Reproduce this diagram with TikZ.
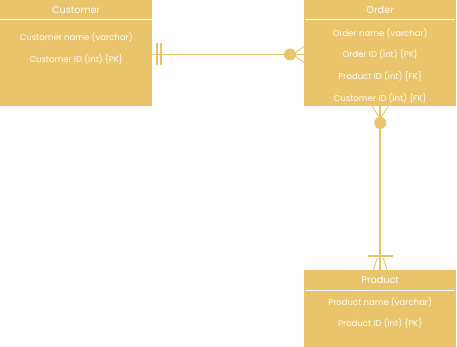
\documentclass[tikz,border=0pt]{standalone}
\usepackage{fontspec}
\setmainfont{Poppins}
\usetikzlibrary{calc}
\definecolor{erfill}{RGB}{233,196,106}
\begin{document}
\begin{tikzpicture}[x=1pt,y=-1pt,
  ent/.style={draw=none,fill=erfill,minimum width=152pt,inner sep=0pt,anchor=north west},
  ttl/.style={text=white,inner sep=0pt,font=\fontsize{9.7}{11}\selectfont},
  fld/.style={text=white,inner sep=0pt,font=\fontsize{8.5}{10}\selectfont},
  hdr/.style={draw=white,line width=1pt},
  rel/.style={draw=erfill,line width=1.5pt},
  bar/.style={draw=erfill,line width=2pt},
  foot/.style={draw=erfill,line width=0.9pt}]
\useasboundingbox (0,0) rectangle (457,347);
% entities
\node[ent,minimum height=106pt] (cust) at (0,0) {};
\node[ent,minimum height=106pt] (order) at (304,0) {};
\node[ent,minimum height=77pt] (prod) at (304,270) {};
% header separators
\draw[hdr] ($(cust.north west)+(0,20)$) -- ($(cust.north east)+(0,20)$);
\draw[hdr] ($(order.north west)+(1,20)$) -- ($(order.north east)+(-1,20)$);
\draw[hdr] ($(prod.north west)+(1,20)$) -- ($(prod.north east)+(-1,20)$);
% titles
\node[ttl] (custT) at ($(cust.north)+(0,10)$) {Customer};
\node[ttl] (orderT) at ($(order.north)+(0,10)$) {Order};
\node[ttl] (prodT) at ($(prod.north)+(0,10)$) {Product};
% fields
\node[fld] (c1) at ($(cust.north)+(0,37.7)$) {Customer name (varchar)};
\node[fld] (c2) at ($(cust.north)+(0,59)$) {Customer ID (int) \{PK\}};
\node[fld] (o1) at ($(order.north)+(0,33)$) {Order name (varchar)};
\node[fld] (o2) at ($(order.north)+(0,54.5)$) {Order ID (int) \{PK\}};
\node[fld] (o3) at ($(order.north)+(0,76.7)$) {Product ID (int) \{FK\}};
\node[fld] (o4) at ($(order.north)+(0,98.5)$) {Customer ID (int) \{FK\}};
\node[fld] (p1) at ($(prod.north)+(0,32.5)$) {Product name (varchar)};
\node[fld] (p2) at ($(prod.north)+(0,53.3)$) {Product ID (int) \{PK\}};
% Customer -- Order
\coordinate (a1) at ($(cust.north east)+(0,54.5)$);
\coordinate (a2) at ($(order.north west)+(0,54.5)$);
\draw[rel] (a1) -- (a2);
\draw[bar] ($(a1)+(5,-11)$) -- ($(a1)+(5,11)$);
\draw[bar] ($(a1)+(9,-11)$) -- ($(a1)+(9,11)$);
\fill[erfill] ($(a2)+(-14,0)$) circle (6);
\draw[foot] ($(a2)+(-11,0)$) -- ($(a2)+(0,-8)$);
\draw[foot] ($(a2)+(-11,0)$) -- ($(a2)+(0,8)$);
% Order -- Product
\coordinate (b1) at (order.south);
\coordinate (b2) at (prod.north);
\draw[rel] (b1) -- (b2);
\fill[erfill] ($(b1)+(0,16.5)$) circle (6);
\draw[foot] ($(b1)+(0,12)$) -- ($(b1)+(-8,0)$);
\draw[foot] ($(b1)+(0,12)$) -- ($(b1)+(8,0)$);
\draw[bar] ($(b2)+(-12,-14)$) -- ($(b2)+(12.5,-14)$);
\draw[foot] ($(b2)+(-3,-12)$) -- ($(b2)+(-7,0)$);
\draw[foot] ($(b2)+(3,-12)$) -- ($(b2)+(7,0)$);
\end{tikzpicture}
\end{document}
